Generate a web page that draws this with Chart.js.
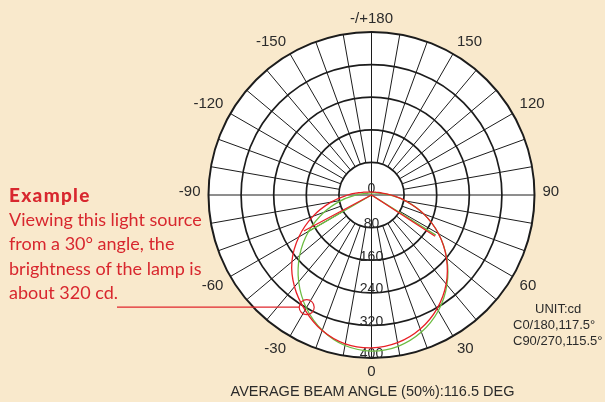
<!DOCTYPE html>
<html>
<head>
<meta charset="utf-8">
<title>Polar light distribution</title>
<script src="https://cdn.jsdelivr.net/npm/chart.js@4.4.1/dist/chart.umd.min.js"></script>
<style>
  body { margin: 0; background: #f9e9cc; }
  #wrap { position: relative; width: 605px; height: 402px; overflow: hidden; }
  #wrap canvas { position: absolute; left: 0; top: 0; }
  .note { position: absolute; left: 9px; top: 183px; color: #d8272e;
    font-family: Lato, "Open Sans", sans-serif; font-size: 18px; line-height: 24.2px; white-space: nowrap; }
  .note b { font-weight: 900; font-size: 19px; letter-spacing: 1.3px; }
  .unit { position: absolute; left: 513px; top: 301px; color: #2b2b2b;
    font-family: "Liberation Sans", Arial, sans-serif; font-size: 13px; line-height: 16px; white-space: nowrap; }
  .caption { position: absolute; left: 0; width: 745px; top: 383px; text-align: center; color: #2b2b2b;
    font-family: "Liberation Sans", Arial, sans-serif; font-size: 14.5px; line-height: 16px; white-space: nowrap; }
</style>
</head>
<body>
<div id="wrap">
  <canvas id="polar" width="605" height="402"></canvas>
  <div class="note"><b>Example</b><br>Viewing this light source<br>from a 30° angle, the<br>brightness of the lamp is<br>about 320 cd.</div>
  <div class="unit"><span style="margin-left:22px">UNIT:cd</span><br>C0/180,117.5°<br>C90/270,115.5°</div>
  <div class="caption">AVERAGE BEAM ANGLE (50%):116.5 DEG</div>
</div>
<script>
// gamma angles (0 = straight down, clockwise positive) and intensity in cd
const anglesDeg = [-180,-170,-160,-150,-140,-130,-120,-110,-100,-90,-80,-70,-60,-50,-40,-30,-20,-10,
                   0,10,20,30,40,50,60,70,80,90,100,110,120,130,140,150,160,170];
// C0/180 plane (red)
const redCd = [7,7,8,9,10,11,14,20,32,58,101,153,206,255,294,326,354,371,
               375,368,350,322,285,240,190,137,86,48,27,18,13,11,9,8,8,7];
// C90/270 plane (green)
const greenCd = [5,5,6,6,7,7,9,12,20,37,75,124,178,230,278,320,353,375,
                 383,377,358,328,288,241,190,137,86,45,23,14,10,8,7,6,6,5];

// the two straight strokes from the centre
const redRayAngles = [-62, 0, 57];
const redRayCd = [188, 0, 186];
const greenRayAngles = [-60, 0, 58];
const greenRayCd = [182, 0, 186];

const maxCd = 400;
const ringValues = [80, 160, 240, 320, 400];
const ringLabelValues = [0, 80, 160, 240, 320, 400];
const angleLabelValues = [0, 30, 60, 90, 120, 150, 180, -150, -120, -90, -60, -30];
const angleLabelText = ['0', '30', '60', '90', '120', '150', '-/+180', '-150', '-120', '-90', '-60', '-30'];

// the worked example
const exampleAngle = -30;
const exampleCd = 318;

function toXY(deg, cd) {
  const a = deg * Math.PI / 180;
  return { x: cd * Math.sin(a), y: -cd * Math.cos(a) };
}

function loop(angles, values) {
  const pts = angles.map((d, i) => toXY(d, values[i]));
  pts.push(pts[0]);
  return pts;
}

const polarGrid = {
  id: 'polarGrid',
  beforeDatasetsDraw(chart) {
    const ctx = chart.ctx;
    const xs = chart.scales.x, ys = chart.scales.y;
    const cx = xs.getPixelForValue(0), cy = ys.getPixelForValue(0);
    const pr = v => xs.getPixelForValue(v) - cx;
    const R = pr(maxCd);
    ctx.save();
    ctx.fillStyle = '#ffffff';
    ctx.beginPath();
    ctx.arc(cx, cy, R, 0, Math.PI * 2);
    ctx.fill();

    // spokes every 10 degrees, only the cross reaches the centre
    ctx.strokeStyle = '#1c1c1c';
    ctx.lineWidth = 1;
    for (let d = 0; d < 360; d += 10) {
      const a = d * Math.PI / 180;
      const r0 = d % 90 === 0 ? 0 : pr(ringValues[0]);
      ctx.beginPath();
      ctx.moveTo(cx + r0 * Math.sin(a), cy + r0 * Math.cos(a));
      ctx.lineTo(cx + R * Math.sin(a), cy + R * Math.cos(a));
      ctx.stroke();
    }
    ringValues.forEach(v => {
      ctx.lineWidth = v === maxCd ? 2 : 1.7;
      ctx.beginPath();
      ctx.arc(cx, cy, pr(v), 0, Math.PI * 2);
      ctx.stroke();
    });

    // cd labels down the middle
    ctx.fillStyle = '#2b2b2b';
    ctx.font = '14px "Liberation Sans", Arial, sans-serif';
    ctx.textAlign = 'center';
    ctx.textBaseline = 'alphabetic';
    ringLabelValues.forEach(v => {
      ctx.fillText(String(v), cx, cy + pr(v) + (v === 0 ? -2 : 0.3));
    });

    // angle labels round the outside
    ctx.font = '15px "Liberation Sans", Arial, sans-serif';
    angleLabelValues.forEach((d, i) => {
      const a = d * Math.PI / 180;
      const s = Math.sin(a), c = Math.cos(a);
      const r = R + 8;
      const x = cx + r * s, y = cy + r * c;
      ctx.textAlign = s > 0.01 ? 'left' : (s < -0.01 ? 'right' : 'center');
      if (c > 0.01) ctx.textBaseline = 'top';
      else if (c < -0.01) ctx.textBaseline = 'bottom';
      else ctx.textBaseline = 'alphabetic';
      ctx.fillText(angleLabelText[i], x, c > 0.01 ? y - 2 : (c < -0.01 ? y + 2 : y + 1));
    });
    ctx.restore();
  },
  afterDatasetsDraw(chart) {
    const ctx = chart.ctx;
    const xs = chart.scales.x, ys = chart.scales.y;
    const p = toXY(exampleAngle, exampleCd);
    const px = xs.getPixelForValue(p.x), py = ys.getPixelForValue(p.y);
    const mr = 7.5;
    ctx.save();
    ctx.strokeStyle = '#e0262d';
    ctx.lineWidth = 1.2;
    ctx.beginPath();
    ctx.arc(px, py, mr, 0, Math.PI * 2);
    ctx.stroke();
    ctx.beginPath();
    ctx.moveTo(117, py);
    ctx.lineTo(px - mr, py);
    ctx.stroke();
    ctx.restore();
  }
};

const red = 'rgb(232,32,38)';
const green = 'rgb(108,188,66)';

new Chart(document.getElementById('polar'), {
  type: 'scatter',
  data: {
    datasets: [
      { data: loop(anglesDeg, redCd), showLine: true, borderColor: red, borderWidth: 1.3, pointRadius: 0, tension: 0.4, fill: false },
      { data: redRayAngles.map((d, i) => toXY(d, redRayCd[i])), showLine: true, borderColor: red, borderWidth: 1.3, pointRadius: 0, tension: 0 },
      { data: loop(anglesDeg, greenCd), showLine: true, borderColor: green, borderWidth: 1.3, pointRadius: 0, tension: 0.4, fill: false },
      { data: greenRayAngles.map((d, i) => toXY(d, greenRayCd[i])), showLine: true, borderColor: green, borderWidth: 1.3, pointRadius: 0, tension: 0 }
    ]
  },
  options: {
    responsive: false,
    animation: false,
    layout: { padding: { left: 208.5, right: 70.5, top: 32, bottom: 44 } },
    scales: {
      x: { type: 'linear', min: -maxCd, max: maxCd, display: false },
      y: { type: 'linear', min: -maxCd, max: maxCd, display: false }
    },
    plugins: { legend: { display: false }, tooltip: { enabled: false } }
  },
  plugins: [polarGrid]
});
</script>
</body>
</html>
